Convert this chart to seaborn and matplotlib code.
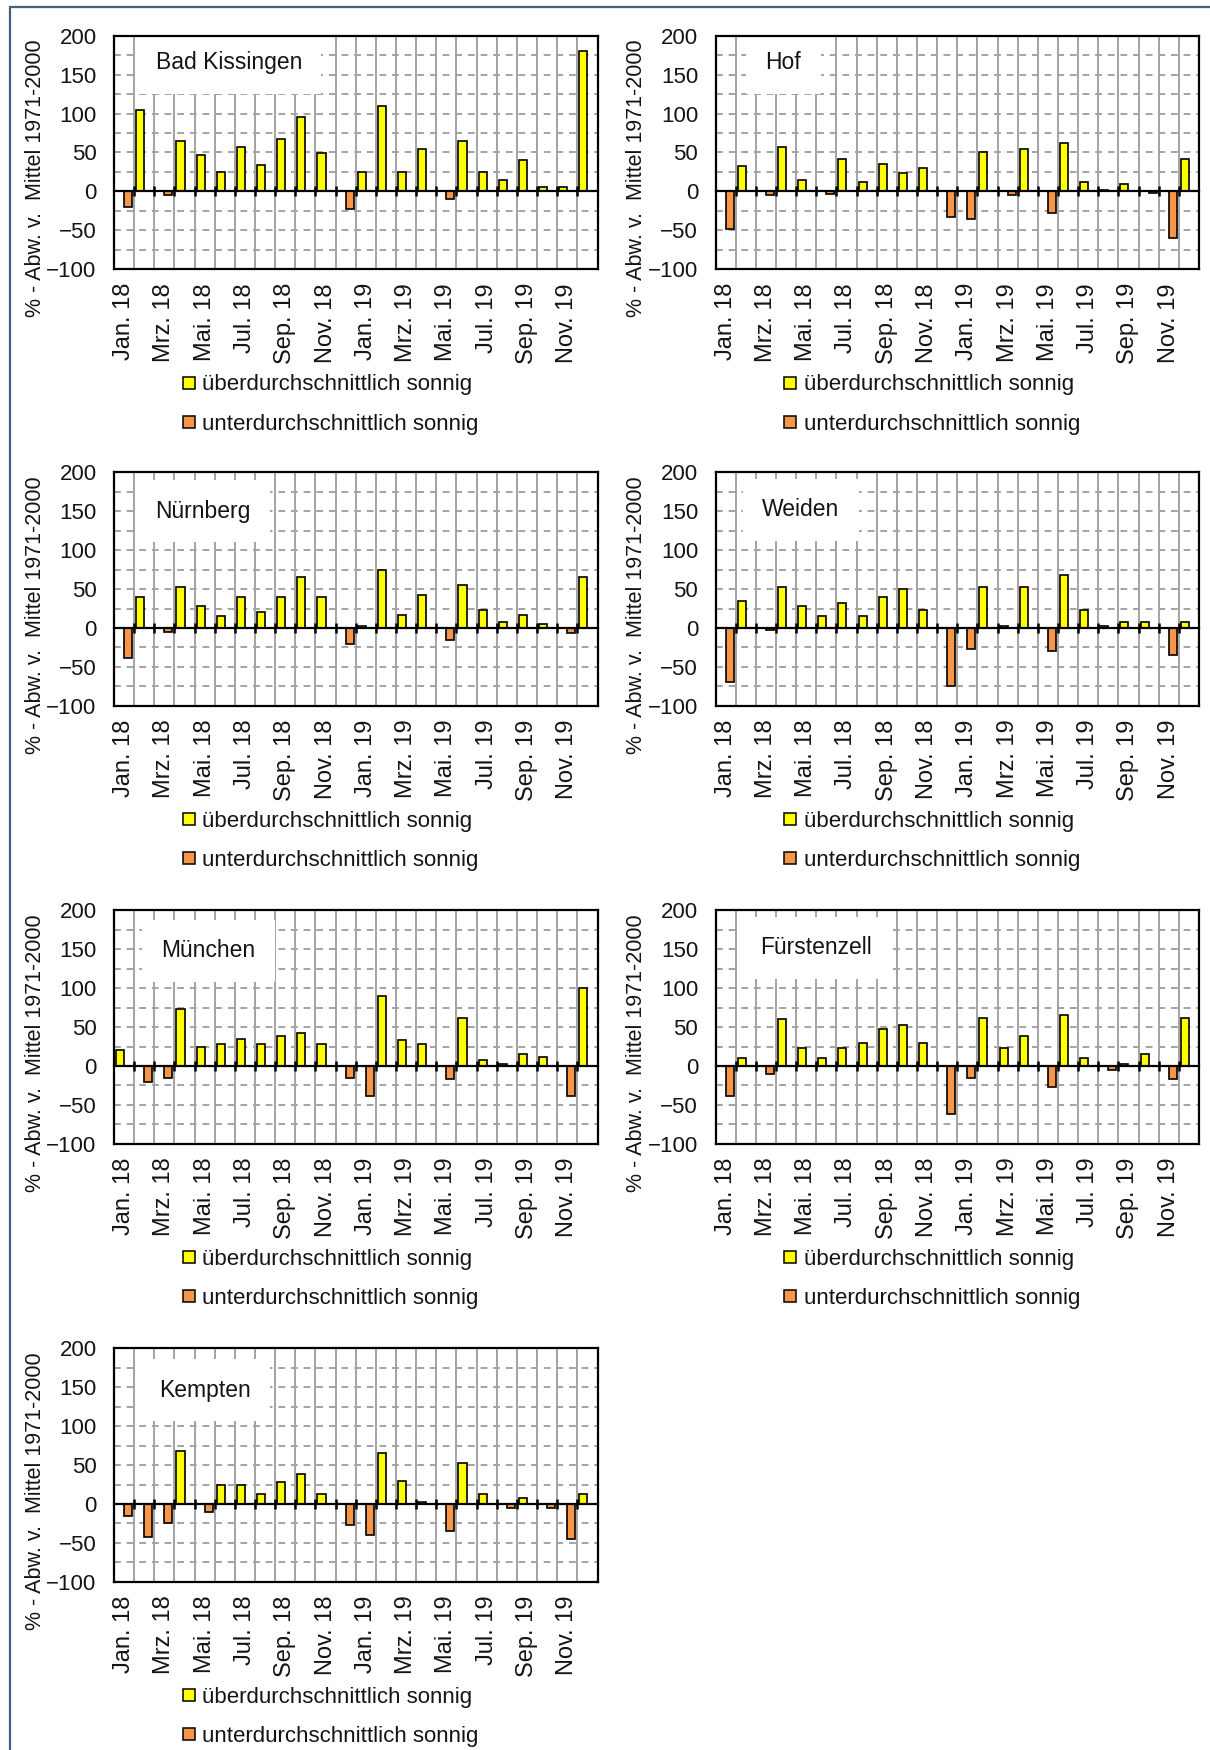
import numpy as np
import pandas as pd
import matplotlib
matplotlib.use("Agg")
import matplotlib.pyplot as plt
import seaborn as sns
from matplotlib.lines import Line2D
from matplotlib.ticker import MultipleLocator

# ---------------- data (percent deviation of sunshine vs. 1971-2000 mean) ----------------
months = ["Jan. 18", "Feb. 18", "Mrz. 18", "Apr. 18", "Mai. 18", "Jun. 18",
          "Jul. 18", "Aug. 18", "Sep. 18", "Okt. 18", "Nov. 18", "Dez. 18",
          "Jan. 19", "Feb. 19", "Mrz. 19", "Apr. 19", "Mai. 19", "Jun. 19",
          "Jul. 19", "Aug. 19", "Sep. 19", "Okt. 19", "Nov. 19", "Dez. 19"]
tick_labels = ["Jan. 18", "Mrz. 18", "Mai. 18", "Jul. 18", "Sep. 18", "Nov. 18",
               "Jan. 19", "Mrz. 19", "Mai. 19", "Jul. 19", "Sep. 19", "Nov. 19"]

bad_kissingen = [-20, 105, -5, 65, 47, 25, 57, 34, 67, 95, 49, -23,
                 25, 110, 25, 55, -10, 65, 25, 14, 40, 5, 5, 180]
hof = [-48, 33, -5, 57, 15, -3, 42, 12, 35, 23, 30, -33,
       -35, 50, -5, 55, -28, 62, 12, 2, 10, -2, -60, 42]
nuernberg = [-38, 40, -5, 53, 28, 15, 40, 20, 40, 65, 40, -20,
             2, 75, 17, 42, -15, 55, 23, 8, 17, 5, -7, 65]
weiden = [-70, 35, -3, 53, 28, 15, 32, 15, 40, 50, 23, -75,
          -27, 53, 2, 53, -30, 68, 23, 2, 8, 8, -35, 8]
muenchen = [20, -20, -15, 73, 25, 28, 35, 28, 38, 42, 28, -15,
            -38, 90, 33, 28, -17, 62, 8, 2, 15, 12, -38, 100]
fuerstenzell = [-38, 10, -10, 60, 23, 10, 23, 30, 48, 53, 30, -62,
                -15, 62, 23, 38, -27, 65, 10, -5, 2, 15, -17, 62]
kempten = [-15, -42, -25, 68, -10, 25, 25, 13, 28, 38, 13, -27,
           -40, 65, 30, 2, -35, 53, 13, -5, 8, -5, -45, 13]

stations = ["Bad Kissingen", "Hof", "Nürnberg", "Weiden", "München", "Fürstenzell", "Kempten"]
station_values = [bad_kissingen, hof, nuernberg, weiden, muenchen, fuerstenzell, kempten]

label_over = "überdurchschnittlich sonnig"
label_under = "unterdurchschnittlich sonnig"
y_label = "% - Abw. v.  Mittel 1971-2000"

# ---------------- styling / layout ----------------
sns.set_style("white")
plt.rcParams["font.family"] = ["Liberation Sans", "DejaVu Sans"]

YELLOW = "#FFFF00"
ORANGE = "#F79646"
GRID = "#a3a3a3"
TXT = "#141414"

W, H = 1210, 1750
fig = plt.figure(figsize=(W / 100, H / 100), dpi=100)

col_left = [114, 715.5]
row_top = [35.7, 472.3, 910.3, 1348.3]
ax_w, ax_h = 483.5, 233.5

# (column, row, title x, title y) in axes fractions
layout = [(0, 0, 0.086, 0.885), (1, 0, 0.103, 0.885),
          (0, 1, 0.086, 0.833), (1, 1, 0.097, 0.840),
          (0, 2, 0.098, 0.826), (1, 2, 0.092, 0.840),
          (0, 3, 0.093, 0.821)]

boundaries = np.arange(0.5, 23, 1.0)

for name, vals, (c, r, tx, ty) in zip(stations, station_values, layout):
    left = col_left[c]
    top = row_top[r]
    ax = fig.add_axes([left / W, 1 - (top + ax_h) / H, ax_w / W, ax_h / H])

    v = np.array(vals, dtype=float)
    over = np.where(v > 0, v, np.nan)
    under = np.where(v < 0, v, np.nan)
    df = pd.DataFrame({
        "Monat": months + months,
        "Wert": np.concatenate([over, under]),
        "Reihe": [label_over] * len(months) + [label_under] * len(months),
    }).dropna()

    sns.barplot(data=df, x="Monat", y="Wert", hue="Reihe", order=months,
                hue_order=[label_over, label_under], palette=[YELLOW, ORANGE],
                saturation=1, width=0.8, gap=0, dodge=True,
                edgecolor="black", linewidth=1.2, errorbar=None,
                legend=False, ax=ax)

    ax.set_xlim(-0.5, 23.5)
    ax.set_ylim(-100, 200)
    ax.set_xlabel("")

    # ticks
    ax.set_xticks(range(0, 24, 2))
    ax.set_xticklabels(tick_labels, rotation=90, va="top", ha="center")
    ax.set_xticks(boundaries, minor=True)
    ax.set_yticks(range(-100, 201, 50))
    ax.yaxis.set_minor_locator(MultipleLocator(25))
    ax.tick_params(axis="both", which="both", length=0)
    ax.tick_params(axis="y", labelsize=16, pad=12.5, labelcolor=TXT)
    ax.tick_params(axis="x", labelsize=17, pad=10, labelcolor=TXT)

    # grid
    ax.set_axisbelow(True)
    ax.xaxis.grid(False, which="major")
    ax.xaxis.grid(True, which="minor", color=GRID, lw=1.4, ls="-")
    ax.yaxis.grid(True, which="both", color=GRID, lw=1.4, ls=(0, (3.5, 3.0)))

    for s in ax.spines.values():
        s.set_visible(True)
        s.set_color("black")
        s.set_linewidth(1.6)

    # category axis crossing at zero with tick marks
    sec = ax.secondary_xaxis(1 / 3)
    sec.set_xticks(boundaries)
    sec.tick_params(direction="inout", length=7.5, width=1.8, color="black",
                    labelbottom=False, labeltop=False)
    for s in sec.spines.values():
        s.set_color("black")
        s.set_linewidth(1.6)
    sec.set_zorder(2)

    # y label
    ax.set_ylabel(y_label, fontsize=15.5, color=TXT)
    ax.yaxis.label.set_va("center")
    ax.yaxis.set_label_coords(-0.163, 0.39)

    # station title in white box
    ax.text(tx, ty, name, transform=ax.transAxes, fontsize=16.5, color=TXT,
            ha="left", va="center", zorder=2, clip_on=True,
            bbox=dict(boxstyle="square,pad=0.85", fc="white", ec="none"))

    # legend
    handles = [Line2D([], [], ls="none", marker="s", markersize=9,
                      markerfacecolor=YELLOW, markeredgecolor="black", markeredgewidth=1.1),
               Line2D([], [], ls="none", marker="s", markersize=9,
                      markerfacecolor=ORANGE, markeredgecolor="black", markeredgewidth=1.1)]
    leg = ax.legend(handles, [label_over, label_under], loc="upper left",
                    bbox_to_anchor=(0.1365, -0.4505), frameon=False, fontsize=16,
                    handlelength=0.8, handletextpad=0.2, labelspacing=0.82,
                    borderpad=0, borderaxespad=0)
    for t in leg.get_texts():
        t.set_color(TXT)

# outer frame lines (top and left)
fig.add_artist(Line2D([9.5 / W, 1], [1 - 6.5 / H, 1 - 6.5 / H],
                      transform=fig.transFigure, color="#3f6283", lw=1.6))
fig.add_artist(Line2D([9.5 / W, 9.5 / W], [0, 1 - 6.5 / H],
                      transform=fig.transFigure, color="#3f6283", lw=1.6))

fig.savefig("out.png", dpi=100, facecolor="white")
